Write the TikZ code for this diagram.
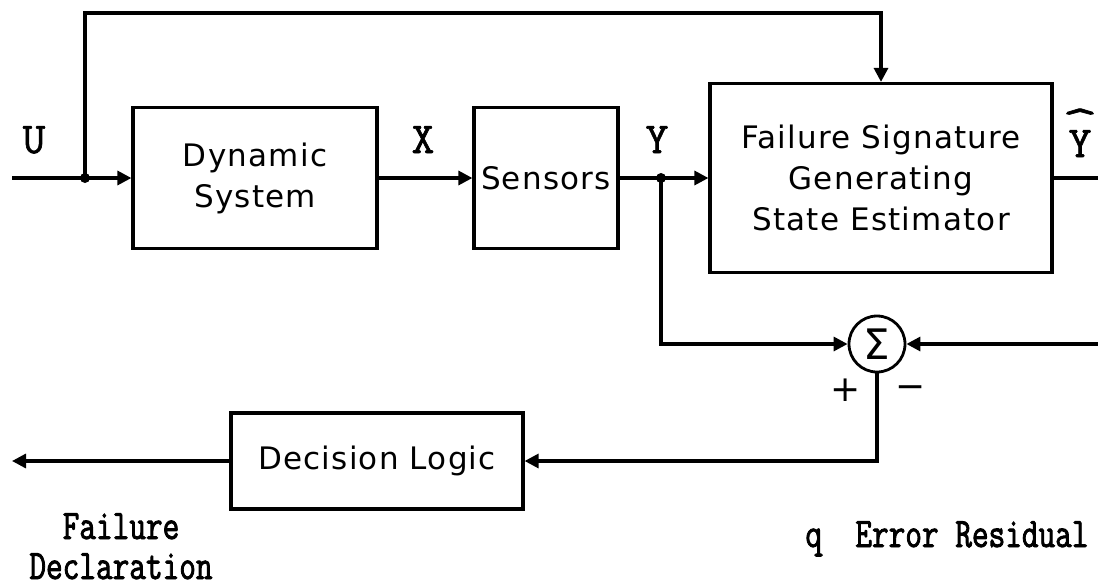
\documentclass[tikz,border=0pt]{standalone}
\usepackage{fontspec}
\usepackage{graphicx}
\newfontfamily\bx{DejaVu Sans}[LetterSpace=4.0]
\newfontfamily\sym{DejaVu Sans}
\newfontfamily\lab{Latin Modern Mono}[FakeBold=1.5]
\newfontfamily\typ{Latin Modern Mono}[FakeStretch=0.77,FakeBold=2]
\usetikzlibrary{arrows.meta}
\begin{document}
\begin{tikzpicture}[x=1pt,y=-1pt,
  line width=3.2pt,
  blk/.style={draw, line width=3.2pt, inner sep=0pt, align=center,
    font=\bx\fontsize{31}{41}\selectfont},
  lbl/.style={font=\lab\fontsize{44}{44}\selectfont, inner sep=0pt},
  note/.style={font=\typ\fontsize{42}{40}\selectfont, align=center, inner sep=0pt},
  sgn/.style={font=\sym\fontsize{36}{36}\selectfont, inner sep=0pt},
  arr/.style={-{Triangle[length=14pt,width=14pt]}},
  jdot/.style={circle, fill, inner sep=0pt, minimum size=10pt}]
\useasboundingbox (0,0) rectangle (1098,587);

% blocks
\node[blk, minimum width=244pt, minimum height=141pt] (dyn) at (255,178) {Dynamic\\System};
\node[blk, minimum width=144pt, minimum height=141pt] (sens) at (546,178) {Sensors};
\node[blk, minimum width=342pt, minimum height=189pt] (est) at (881,178)
  {Failure Signature\\Generating\\State Estimator};
\node[blk, minimum width=292pt, minimum height=96pt] (dec) at (377,461) {Decision Logic};
\node[circle, draw, line width=2.8pt, minimum size=56pt, inner sep=0pt,
  font=\sym\fontsize{42}{42}\selectfont] (sum) at (877,344) {Σ};

% coordinates
\coordinate (in) at (12,178);
\coordinate (j1) at (85,178);
\coordinate (top) at (85,13);
\coordinate (j2) at (661,178);
\coordinate (yout) at (1098,178);
\coordinate (rin) at (1098,344);
\coordinate (out) at (12,461);

% connectors
\draw (in) -- (j1);
\draw[arr] (j1) -- (dyn.west);
\draw[arr] (j1) -- (top) -| (est.north);
\draw[arr] (dyn.east) -- (sens.west);
\draw (sens.east) -- (j2);
\draw[arr] (j2) -- (est.west);
\draw[arr] (j2) |- (sum.west);
\draw (est.east) -- (yout);
\draw[arr] (rin) -- (sum.east);
\draw[arr] (sum.south) |- (dec.east);
\draw[arr] (dec.west) -- (out);
\node[jdot] (d1) at (j1) {};
\node[jdot] (d2) at (j2) {};

% labels
\node[lbl, anchor=base] (lU) at (34,153) {U};
\node[lbl, anchor=base] (lX) at (423,153) {X};
\node[lbl, anchor=base] (lY) at (657,153) {Y};
\node[lbl, anchor=base, align=center] (lYh) at (1080,157)
  {\scalebox{1.6}[1.0]{\symbol{94}}\\[-23pt]Y};
\node[sgn] (plus) at (846,390) {+};
\node[sgn] (minus) at (911,392) {−};
\node[note, anchor=base] (fd) at (121,579) {Failure\\Declaration};
\node[note, anchor=base] (er) at (947,547) {q\ \ Error Residual};
\end{tikzpicture}
\end{document}
